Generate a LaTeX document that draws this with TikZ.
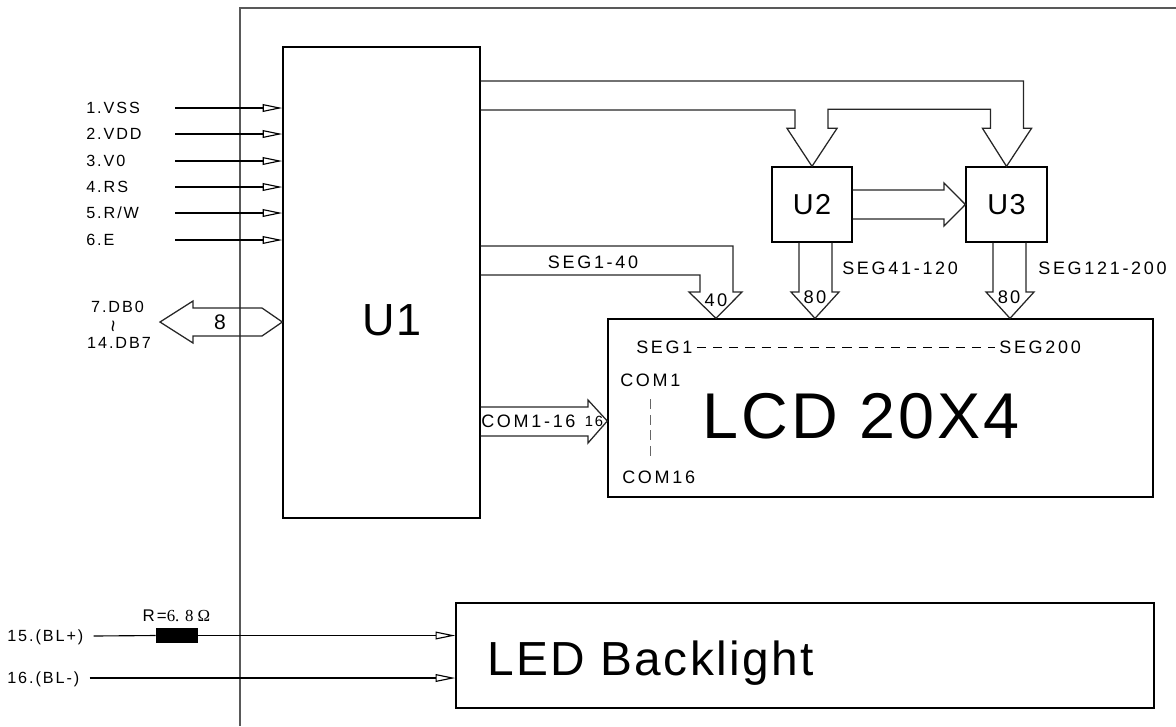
\documentclass[tikz,border=0pt]{standalone}
\usepackage{fontspec}
\setmainfont{Liberation Sans}
\newfontfamily\lblfont{Liberation Sans}[LetterSpace=12]
\newfontfamily\busfont{Liberation Sans}[LetterSpace=15]
\newfontfamily\bigfont{Liberation Sans}[LetterSpace=5]
\newfontfamily\ohmfont{Liberation Serif}
\usetikzlibrary{arrows.meta, calc, positioning}
\tikzstyle{chip} = [rectangle, draw=black, line width=0.9pt, inner sep=0pt]
\tikzstyle{wire} = [line width=0.8pt, -{Triangle[open, length=14pt, width=5.5pt]}]
\tikzstyle{bus} = [line width=0.9pt, black!85]
\tikzstyle{lbl} = [inner sep=0pt, font=\lblfont\fontsize{11.5}{13}\selectfont, text height=8.2pt, text depth=0pt]
\tikzstyle{buslbl} = [inner sep=0pt, font=\busfont\fontsize{12.8}{14}\selectfont, text height=9.2pt, text depth=0pt]
\tikzstyle{frame} = [line width=1.4pt, black!65]

\begin{document}
\begin{tikzpicture}[x=0.025cm, y=-0.025cm]
  \useasboundingbox (0,0) rectangle (1176,726);
  % outer frame
  \draw[frame] (1176,8) -- (240,8) -- (240,726);

  % blocks
  \node[chip, minimum width=4.925cm, minimum height=11.775cm] (u1) at (381.5,282.5) {};
  \node[font=\bigfont\fontsize{32}{34}\selectfont] (u1txt) at (392,320) {U1};
  \node[chip, minimum width=2cm, minimum height=1.875cm, font=\bigfont\fontsize{20.5}{22}\selectfont] (u2) at (812,204.5) {U2};
  \node[chip, minimum width=2.025cm, minimum height=1.875cm, font=\bigfont\fontsize{20.5}{22}\selectfont] (u3) at (1006.5,204.5) {U3};
  \node[chip, minimum width=13.625cm, minimum height=4.45cm] (lcd) at (880.5,408) {};
  \node[font=\bigfont\fontsize{46}{48}\selectfont] (lcdtxt) at (861,416.5) {LCD 20X4};
  \node[chip, minimum width=17.45cm, minimum height=2.625cm] (led) at (805,655.5) {};
  \node[anchor=west, inner sep=0pt, text depth=0pt, font=\bigfont\fontsize{34}{36}\selectfont] (ledtxt) at (487,658) {LED Backlight};

  % control pins
  \foreach \y/\txt [count=\i] in {108/{1.VSS}, 134/{2.VDD}, 161/{3.V0}, 187/{4.RS}, 213/{5.R/W}, 240/{6.E}} {
    \node[lbl, anchor=west] (p\i) at (86,\y) {\txt};
    \draw[wire] (p\i.west) ++(89,0) -- (u1.west |- p\i);
  }

  % data bus
  \node[lbl] (db0) at (117.5,307) {7.DB0};
  \node[rotate=90, inner sep=0pt, font=\lblfont\fontsize{15}{16}\selectfont] (dbwr) at (116,326) {\textasciitilde};
  \node[lbl] (db7) at (119,343) {14.DB7};
  \draw[bus] (u1.west |- 0,322) -- (262,308) -- (193,308) -- (193,301) -- (160,322) -- (193,343) -- (193,336) -- (262,336) -- cycle;
  \node[font=\lblfont\fontsize{15}{16}\selectfont] (dbn) at (220,322) {8};

  % U1 to U2 and U3
  \draw[bus] (u1.east |- 0,81) -| ($(u3.north)+(17,-38)$) -- ++(8,0) -- (u3.north) -- ++(-24,-38) -- ++(8,0)
    |- ($(u2.north)+(16,-57)$) -- ++(0,19) -- ++(9,0) -- (u2.north) -- ++(-25,-38) -- ++(8,0) |- (u1.east |- 0,110);
  \draw[bus] (u2.east |- 0,190) -- (944,190) -- (944,183) -- (u3.west) -- (944,226) -- (944,219) -- (u2.east |- 0,219);

  % segment buses
  \draw[bus] (u1.east |- 0,246) -| (733,292) -- (742,292) -- (lcd.north -| 716,0) -- (689,292) -- (700,292) |- (u1.east |- 0,275);
  \node[buslbl] (seg1a) at (593,262) {SEG1-40};
  \node[buslbl, font=\lblfont\fontsize{13}{14}\selectfont] (n40) at (716,300) {40};
  \draw[bus] (u2.south -| 799,0) -- (799,292) -- (791,292) -- (lcd.north -| 815,0) -- (839,292) -- (832,292) -- (u2.south -| 832,0);
  \node[buslbl, font=\lblfont\fontsize{13}{14}\selectfont] (n80a) at (815,297) {80};
  \node[buslbl, anchor=west] (seg2a) at (842,268) {SEG41-120};
  \draw[bus] (u3.south -| 993,0) -- (993,292) -- (986,292) -- (lcd.north -| 1010,0) -- (1034,292) -- (1026,292) -- (u3.south -| 1026,0);
  \node[buslbl, font=\lblfont\fontsize{13}{14}\selectfont] (n80b) at (1009,297) {80};
  \node[buslbl, anchor=west] (seg3a) at (1038,268) {SEG121-200};

  % common bus
  \draw[bus] (u1.east |- 0,407) -- (588,407) -- (588,400) -- (lcd.west |- 0,421) -- (588,443) -- (588,436) -- (u1.east |- 0,436);
  \node[buslbl, anchor=west] (comtxt) at (481,421) {COM1-16};
  \node[lbl, font=\lblfont\fontsize{10.5}{11}\selectfont] (n16) at (594,421) {16};

  % inside the LCD
  \node[buslbl, anchor=west] (seg1) at (636,347) {SEG1};
  \node[buslbl, anchor=west] (seg200) at (999,347) {SEG200};
  \draw[dash pattern=on 6.5pt off 5pt] ([xshift=3pt]seg1.east) -- ([xshift=-3pt]seg200.west);
  \node[buslbl, anchor=west] (com1) at (620,380) {COM1};
  \node[buslbl, anchor=west] (com16) at (622,477) {COM16};
  \draw[black!60, dash pattern=on 7pt off 4pt] ([yshift=-9pt]com1.south) -- ([yshift=8pt]com1.south |- com16.north);

  % backlight
  \node[lbl, anchor=west] (blp) at (7,636) {15.(BL+)};
  \node[lbl, anchor=west] (blm) at (7,678) {16.(BL-)};
  \node[fill=black, minimum width=1.05cm, minimum height=0.375cm, inner sep=0pt] (r1) at (177,635.5) {};
  \node[font=\lblfont\fontsize{12}{13}\selectfont] (rval) at (176.5,616) {R={\ohmfont 6. 8 Ω}};
  \draw[line width=0.8pt] (blp.east) ++(10,0) -- (r1.west);
  \draw[wire] (r1.east) -- (led.west |- r1);
  \draw[wire] (blm.east) ++(10,0) -- (led.west |- blm);
\end{tikzpicture}
\end{document}
